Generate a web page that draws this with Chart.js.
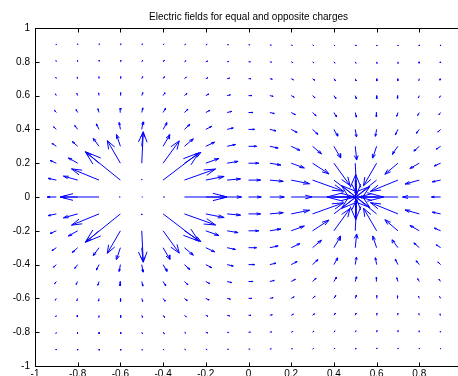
<!DOCTYPE html>
<html>
<head>
<meta charset="utf-8">
<title>Electric fields for equal and opposite charges</title>
<script src="https://cdn.jsdelivr.net/npm/chart.js@4"></script>
<style>
  html, body { margin: 0; padding: 0; background: #fff; overflow: hidden; }
  #wrap { position: absolute; left: 0; top: 0; width: 470px; height: 392px; }
</style>
</head>
<body>
<div id="wrap"><canvas id="quiver" width="470" height="392"></canvas></div>
<script>
const chartTitle = 'Electric fields for equal and opposite charges';

// arrow tails (grid), top row first
const gridX = [-0.9, -0.8, -0.7, -0.6, -0.5, -0.4, -0.3, -0.2, -0.1, 0, 0.1, 0.2, 0.3, 0.4, 0.5, 0.6, 0.7, 0.8, 0.9];
const gridY = [0.9, 0.8, 0.7, 0.6, 0.5, 0.4, 0.3, 0.2, 0.1, 0, -0.1, -0.2, -0.3, -0.4, -0.5, -0.6, -0.7, -0.8, -0.9];
const tickValues = [-1, -0.8, -0.6, -0.4, -0.2, 0, 0.2, 0.4, 0.6, 0.8, 1];

// arrow components as drawn (axis units), one row per gridY
const uRows = [
  [-0.0009, -0.0002, 0.0008, 0.0019, 0.0031, 0.0043, 0.0054, 0.0062, 0.0067, 0.0069, 0.0067, 0.0062, 0.0054, 0.0043, 0.0031, 0.0019, 0.0008, -0.0002, -0.0009],
  [-0.0017, -0.0009, 0.0003, 0.0019, 0.0036, 0.0053, 0.0068, 0.0080, 0.0087, 0.0089, 0.0087, 0.0080, 0.0068, 0.0053, 0.0036, 0.0019, 0.0003, -0.0009, -0.0017],
  [-0.0030, -0.0021, -0.0005, 0.0016, 0.0041, 0.0067, 0.0089, 0.0105, 0.0115, 0.0118, 0.0115, 0.0105, 0.0089, 0.0067, 0.0041, 0.0016, -0.0005, -0.0021, -0.0030],
  [-0.0050, -0.0041, -0.0022, 0.0009, 0.0047, 0.0087, 0.0119, 0.0142, 0.0154, 0.0157, 0.0154, 0.0142, 0.0119, 0.0087, 0.0047, 0.0009, -0.0022, -0.0041, -0.0050],
  [-0.0082, -0.0077, -0.0055, -0.0010, 0.0054, 0.0118, 0.0167, 0.0196, 0.0209, 0.0212, 0.0209, 0.0196, 0.0167, 0.0118, 0.0054, -0.0010, -0.0055, -0.0077, -0.0082],
  [-0.0132, -0.0141, -0.0123, -0.0056, 0.0060, 0.0178, 0.0252, 0.0280, 0.0286, 0.0286, 0.0286, 0.0280, 0.0252, 0.0178, 0.0060, -0.0056, -0.0123, -0.0141, -0.0132],
  [-0.0204, -0.0254, -0.0272, -0.0182, 0.0066, 0.0316, 0.0416, 0.0414, 0.0389, 0.0378, 0.0389, 0.0414, 0.0416, 0.0316, 0.0066, -0.0182, -0.0272, -0.0254, -0.0204],
  [-0.0298, -0.0437, -0.0613, -0.0612, 0.0071, 0.0757, 0.0770, 0.0616, 0.0513, 0.0480, 0.0513, 0.0616, 0.0770, 0.0757, 0.0071, -0.0612, -0.0613, -0.0437, -0.0298],
  [-0.0390, -0.0668, -0.1290, -0.1647, 0.0000, 0.1678, 0.1456, 0.0860, 0.0628, 0.0566, 0.0628, 0.0860, 0.1456, 0.1678, 0.0023, -0.1647, -0.1290, -0.0668, -0.0390],
  [-0.0431, -0.0789, -0.1823, -0.0060, 0.0040, 0.0060, 0.1992, 0.0986, 0.0677, 0.0600, 0.0677, 0.0986, 0.1992, 0.2330, 0.0040, -0.2330, -0.1823, -0.0789, -0.0431],
  [-0.0390, -0.0668, -0.1290, -0.1647, 0.0000, 0.1678, 0.1456, 0.0860, 0.0628, 0.0566, 0.0628, 0.0860, 0.1456, 0.1678, 0.0023, -0.1647, -0.1290, -0.0668, -0.0390],
  [-0.0298, -0.0437, -0.0613, -0.0612, 0.0071, 0.0757, 0.0770, 0.0616, 0.0513, 0.0480, 0.0513, 0.0616, 0.0770, 0.0757, 0.0071, -0.0612, -0.0613, -0.0437, -0.0298],
  [-0.0204, -0.0254, -0.0272, -0.0182, 0.0066, 0.0316, 0.0416, 0.0414, 0.0389, 0.0378, 0.0389, 0.0414, 0.0416, 0.0316, 0.0066, -0.0182, -0.0272, -0.0254, -0.0204],
  [-0.0132, -0.0141, -0.0123, -0.0056, 0.0060, 0.0178, 0.0252, 0.0280, 0.0286, 0.0286, 0.0286, 0.0280, 0.0252, 0.0178, 0.0060, -0.0056, -0.0123, -0.0141, -0.0132],
  [-0.0082, -0.0077, -0.0055, -0.0010, 0.0054, 0.0118, 0.0167, 0.0196, 0.0209, 0.0212, 0.0209, 0.0196, 0.0167, 0.0118, 0.0054, -0.0010, -0.0055, -0.0077, -0.0082],
  [-0.0050, -0.0041, -0.0022, 0.0009, 0.0047, 0.0087, 0.0119, 0.0142, 0.0154, 0.0157, 0.0154, 0.0142, 0.0119, 0.0087, 0.0047, 0.0009, -0.0022, -0.0041, -0.0050],
  [-0.0030, -0.0021, -0.0005, 0.0016, 0.0041, 0.0067, 0.0089, 0.0105, 0.0115, 0.0118, 0.0115, 0.0105, 0.0089, 0.0067, 0.0041, 0.0016, -0.0005, -0.0021, -0.0030],
  [-0.0017, -0.0009, 0.0003, 0.0019, 0.0036, 0.0053, 0.0068, 0.0080, 0.0087, 0.0089, 0.0087, 0.0080, 0.0068, 0.0053, 0.0036, 0.0019, 0.0003, -0.0009, -0.0017],
  [-0.0009, -0.0002, 0.0008, 0.0019, 0.0031, 0.0043, 0.0054, 0.0062, 0.0067, 0.0069, 0.0067, 0.0062, 0.0054, 0.0043, 0.0031, 0.0019, 0.0008, -0.0002, -0.0009],
];
const vRows = [
  [0.0056, 0.0062, 0.0066, 0.0067, 0.0065, 0.0058, 0.0047, 0.0034, 0.0017, 0, -0.0017, -0.0034, -0.0047, -0.0058, -0.0065, -0.0067, -0.0066, -0.0062, -0.0056],
  [0.0070, 0.0079, 0.0087, 0.0091, 0.0089, 0.0080, 0.0066, 0.0046, 0.0024, 0, -0.0024, -0.0046, -0.0066, -0.0080, -0.0089, -0.0091, -0.0087, -0.0079, -0.0070],
  [0.0087, 0.0103, 0.0117, 0.0125, 0.0124, 0.0113, 0.0092, 0.0065, 0.0033, 0, -0.0033, -0.0065, -0.0092, -0.0113, -0.0124, -0.0125, -0.0117, -0.0103, -0.0087],
  [0.0107, 0.0134, 0.0159, 0.0177, 0.0180, 0.0164, 0.0133, 0.0092, 0.0046, 0, -0.0046, -0.0092, -0.0133, -0.0164, -0.0180, -0.0177, -0.0159, -0.0134, -0.0107],
  [0.0131, 0.0175, 0.0223, 0.0262, 0.0273, 0.0249, 0.0196, 0.0130, 0.0064, 0, -0.0064, -0.0130, -0.0196, -0.0249, -0.0273, -0.0262, -0.0223, -0.0175, -0.0131],
  [0.0156, 0.0228, 0.0321, 0.0409, 0.0445, 0.0397, 0.0294, 0.0183, 0.0086, 0, -0.0086, -0.0183, -0.0294, -0.0397, -0.0445, -0.0409, -0.0321, -0.0228, -0.0156],
  [0.0172, 0.0285, 0.0468, 0.0696, 0.0814, 0.0685, 0.0444, 0.0244, 0.0106, 0, -0.0106, -0.0244, -0.0444, -0.0685, -0.0814, -0.0696, -0.0468, -0.0285, -0.0172],
  [0.0162, 0.0313, 0.0655, 0.1331, 0.1861, 0.1322, 0.0636, 0.0281, 0.0108, 0, -0.0108, -0.0281, -0.0636, -0.1322, -0.1861, -0.1331, -0.0655, -0.0313, -0.0162],
  [0.0104, 0.0234, 0.0667, 0.1682, 0.0060, 0.1617, 0.0657, 0.0216, 0.0074, 0, -0.0074, -0.0216, -0.0657, -0.1617, -0.2330, -0.1682, -0.0667, -0.0234, -0.0104],
  [0, 0, 0, 0, 0, 0, 0, 0, 0, 0, 0, 0, 0, 0, 0, 0, 0, 0, 0],
  [-0.0104, -0.0234, -0.0667, -0.1682, -0.0060, -0.1617, -0.0657, -0.0216, -0.0074, 0, 0.0074, 0.0216, 0.0657, 0.1617, 0.2330, 0.1682, 0.0667, 0.0234, 0.0104],
  [-0.0162, -0.0313, -0.0655, -0.1331, -0.1861, -0.1322, -0.0636, -0.0281, -0.0108, 0, 0.0108, 0.0281, 0.0636, 0.1322, 0.1861, 0.1331, 0.0655, 0.0313, 0.0162],
  [-0.0172, -0.0285, -0.0468, -0.0696, -0.0814, -0.0685, -0.0444, -0.0244, -0.0106, 0, 0.0106, 0.0244, 0.0444, 0.0685, 0.0814, 0.0696, 0.0468, 0.0285, 0.0172],
  [-0.0156, -0.0228, -0.0321, -0.0409, -0.0445, -0.0397, -0.0294, -0.0183, -0.0086, 0, 0.0086, 0.0183, 0.0294, 0.0397, 0.0445, 0.0409, 0.0321, 0.0228, 0.0156],
  [-0.0131, -0.0175, -0.0223, -0.0262, -0.0273, -0.0249, -0.0196, -0.0130, -0.0064, 0, 0.0064, 0.0130, 0.0196, 0.0249, 0.0273, 0.0262, 0.0223, 0.0175, 0.0131],
  [-0.0107, -0.0134, -0.0159, -0.0177, -0.0180, -0.0164, -0.0133, -0.0092, -0.0046, 0, 0.0046, 0.0092, 0.0133, 0.0164, 0.0180, 0.0177, 0.0159, 0.0134, 0.0107],
  [-0.0087, -0.0103, -0.0117, -0.0125, -0.0124, -0.0113, -0.0092, -0.0065, -0.0033, 0, 0.0033, 0.0065, 0.0092, 0.0113, 0.0124, 0.0125, 0.0117, 0.0103, 0.0087],
  [-0.0070, -0.0079, -0.0087, -0.0091, -0.0089, -0.0080, -0.0066, -0.0046, -0.0024, 0, 0.0024, 0.0046, 0.0066, 0.0080, 0.0089, 0.0091, 0.0087, 0.0079, 0.0070],
  [-0.0056, -0.0062, -0.0066, -0.0067, -0.0065, -0.0058, -0.0047, -0.0034, -0.0017, 0, 0.0017, 0.0034, 0.0047, 0.0058, 0.0065, 0.0067, 0.0066, 0.0062, 0.0056],
];

// arrow head like matlab quiver: length and half-width relative to the arrow
const headLen = 0.33, headWid = 0.33;

function quiverPoints() {
  const pts = [];
  gridY.forEach((y, r) => {
    gridX.forEach((x, c) => {
      const u = uRows[r][c], v = vRows[r][c];
      const tx = x + u, ty = y + v;
      pts.push({x, y}, {x: tx, y: ty}, {x: null, y: null});
      pts.push(
        {x: tx - headLen * (u + headWid * v), y: ty - headLen * (v - headWid * u)},
        {x: tx, y: ty},
        {x: tx - headLen * (u - headWid * v), y: ty - headLen * (v + headWid * u)},
        {x: null, y: null}
      );
    });
  });
  return pts;
}

const font = { family: '"Liberation Sans", Arial, Helvetica, sans-serif', size: 10, weight: 'normal' };

// box around the axes + inward tick marks
const boxTicks = {
  id: 'boxTicks',
  afterDraw(chart) {
    const { ctx, chartArea: a, scales: { x, y } } = chart;
    const L = Math.round(a.left) + 0.5, R = Math.round(a.right) + 0.5;
    const T = Math.round(a.top) + 0.5, B = Math.round(a.bottom) + 0.5;
    ctx.save();
    ctx.strokeStyle = '#000';
    ctx.lineWidth = 1;
    ctx.strokeRect(L, T, R - L, B - T);
    ctx.beginPath();
    x.ticks.forEach(t => {
      const px = Math.round(x.getPixelForValue(t.value)) + 0.5;
      ctx.moveTo(px, B); ctx.lineTo(px, B - 4);
      ctx.moveTo(px, T); ctx.lineTo(px, T + 4);
    });
    y.ticks.forEach(t => {
      const py = Math.round(y.getPixelForValue(t.value)) + 0.5;
      ctx.moveTo(L, py); ctx.lineTo(L + 4, py);
      ctx.moveTo(R, py); ctx.lineTo(R - 4, py);
    });
    ctx.stroke();
    ctx.restore();
  }
};

new Chart(document.getElementById('quiver'), {
  type: 'scatter',
  data: {
    datasets: [{
      data: quiverPoints(),
      showLine: true,
      spanGaps: false,
      borderColor: 'rgb(0,0,255)',
      borderWidth: 1,
      pointRadius: 0,
      tension: 0,
    }],
  },
  options: {
    responsive: false,
    animation: false,
    events: [],
    layout: { padding: { left: 0, right: 8, top: 0, bottom: 0 } },
    plugins: {
      legend: { display: false },
      tooltip: { enabled: false },
      title: {
        display: true, text: chartTitle, color: '#000', font,
        padding: { top: 11, bottom: 5 }, fullSize: false,
      },
    },
    scales: {
      x: {
        type: 'linear', min: -1, max: 1,
        afterBuildTicks: s => { s.ticks = tickValues.map(value => ({ value })); },
        afterFit: s => { s.height = 26; },
        grid: { display: false, drawTicks: false },
        border: { display: false },
        ticks: { color: '#000', font, padding: 2, maxRotation: 0, autoSkip: false, callback: v => String(v) },
      },
      y: {
        type: 'linear', min: -1, max: 1,
        afterBuildTicks: s => { s.ticks = tickValues.map(value => ({ value })); },
        afterFit: s => { s.width = 35; },
        grid: { display: false, drawTicks: false },
        border: { display: false },
        ticks: { color: '#000', font, padding: 5, autoSkip: false, callback: v => String(v) },
      },
    },
  },
  plugins: [boxTicks],
});
</script>
</body>
</html>
